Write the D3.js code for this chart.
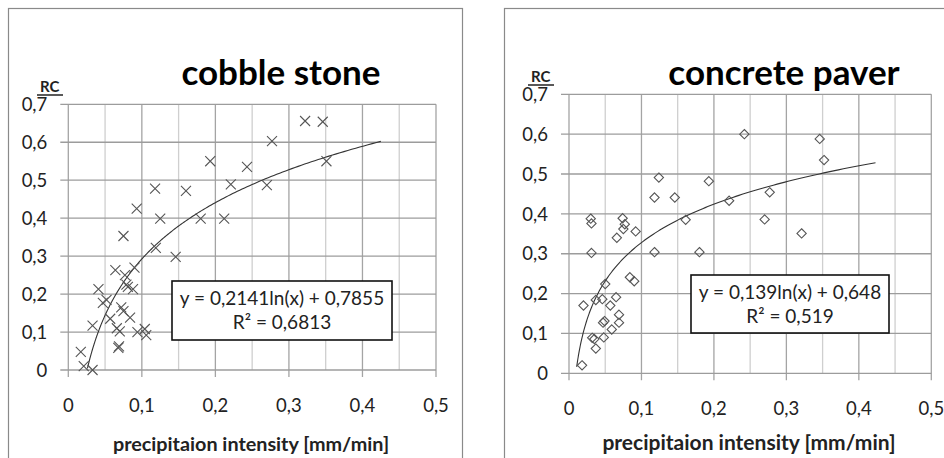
<!doctype html>
<html lang="en">
<head>
<meta charset="UTF-8">
<title>RC vs precipitation intensity</title>
<script src="https://cdn.jsdelivr.net/npm/d3@7"></script>
<style>
  body { margin: 0; background: #fff; }
  svg text { font-family: Lato, "Open Sans", sans-serif; fill: #222; }
</style>
</head>
<body>
<script>
// ---- data ----
var xTicks = [0, 0.1, 0.2, 0.3, 0.4, 0.5];
var xGrid = [0, 0.05, 0.1, 0.15, 0.2, 0.25, 0.3, 0.35, 0.4, 0.45, 0.5];
var yTicks = [0, 0.1, 0.2, 0.3, 0.4, 0.5, 0.6, 0.7];

var cobbleX = [0.017, 0.021, 0.033, 0.033, 0.041, 0.047, 0.052, 0.057, 0.064, 0.066,
               0.068, 0.069, 0.070, 0.072, 0.075, 0.075, 0.077, 0.079, 0.081, 0.084,
               0.088, 0.090, 0.093, 0.094, 0.104, 0.106, 0.118, 0.119, 0.125, 0.146,
               0.160, 0.180, 0.193, 0.212, 0.221, 0.243, 0.270, 0.277, 0.322, 0.346, 0.351];
var cobbleY = [0.048, 0.010, 0.000, 0.117, 0.213, 0.177, 0.185, 0.135, 0.263, 0.110,
               0.058, 0.062, 0.102, 0.165, 0.155, 0.353, 0.250, 0.225, 0.219, 0.138,
               0.213, 0.270, 0.425, 0.100, 0.108, 0.092, 0.478, 0.322, 0.399, 0.298,
               0.472, 0.399, 0.550, 0.399, 0.489, 0.535, 0.487, 0.603, 0.656, 0.654, 0.550];

var paverX = [0.018, 0.020, 0.030, 0.031, 0.031, 0.032, 0.035, 0.037, 0.037, 0.046,
              0.047, 0.049, 0.048, 0.050, 0.057, 0.059, 0.065, 0.066, 0.069, 0.069,
              0.074, 0.075, 0.077, 0.084, 0.090, 0.092, 0.118, 0.118, 0.124, 0.146,
              0.161, 0.180, 0.193, 0.221, 0.242, 0.270, 0.277, 0.321, 0.346, 0.352];
var paverY = [0.020, 0.170, 0.388, 0.376, 0.302, 0.089, 0.086, 0.062, 0.184, 0.186,
              0.127, 0.131, 0.090, 0.224, 0.170, 0.110, 0.191, 0.340, 0.127, 0.147,
              0.389, 0.362, 0.374, 0.241, 0.231, 0.356, 0.441, 0.304, 0.491, 0.441,
              0.385, 0.304, 0.482, 0.433, 0.600, 0.386, 0.454, 0.351, 0.588, 0.535];

// logarithmic trendlines y = a*ln(x) + b, drawn over [from, to]
var cobbleTrend = {a: 0.2141, b: 0.7855, from: 0.026, to: 0.425};
var paverTrend = {a: 0.139, b: 0.648, from: 0.0106, to: 0.423};

var titles = ["cobble stone", "concrete paver"];
var equations = [["y = 0,2141ln(x) + 0,7855", "R² = 0,6813"],
                 ["y = 0,139ln(x) + 0,648", "R² = 0,519"]];
var xTitle = "precipitaion intensity [mm/min]";
var yTitle = "RC";

var W = 944, H = 458;
var svg = d3.select("body").append("svg")
    .attr("width", W)
    .attr("height", H);

var fmt = function(v) { return String(v).replace(".", ","); };

function drawPanel(p) {
    var g = svg.append("g");

    // outer frame
    g.append("rect")
        .attr("x", p.frame[0] + 0.5).attr("y", p.frame[1] + 0.5)
        .attr("width", p.frame[2]).attr("height", p.frame[3])
        .attr("fill", "none").attr("stroke", "#8a8a8a").attr("stroke-width", 1.2);

    var x = d3.scaleLinear().domain([0, 0.5]).range([p.x0, p.x1]);
    var y = d3.scaleLinear().domain([0, 0.7]).range([p.y0, p.y1]);

    // minor vertical grid
    g.append("g").selectAll("line")
        .data(xGrid.filter(function(d, i) { return i % 2 === 1; }))
        .enter().append("line")
            .attr("x1", function(d) { return x(d); })
            .attr("x2", function(d) { return x(d); })
            .attr("y1", p.y0).attr("y2", p.y1)
            .attr("stroke", "#cfcfcf").attr("stroke-width", 1.3);

    // major vertical grid + ticks below
    g.append("g").selectAll("line")
        .data(xTicks)
        .enter().append("line")
            .attr("x1", function(d) { return x(d); })
            .attr("x2", function(d) { return x(d); })
            .attr("y1", p.y0 + 7).attr("y2", p.y1)
            .attr("stroke", "#a4a4a4").attr("stroke-width", 1.3);

    // horizontal grid + ticks left
    g.append("g").selectAll("line")
        .data(yTicks)
        .enter().append("line")
            .attr("x1", p.x0 - 8).attr("x2", p.x1)
            .attr("y1", function(d) { return y(d); })
            .attr("y2", function(d) { return y(d); })
            .attr("stroke", "#9c9c9c").attr("stroke-width", 1.3);

    // tick labels
    g.append("g").selectAll("text")
        .data(yTicks)
        .enter().append("text")
            .attr("x", p.x0 - 21)
            .attr("y", function(d) { return y(d); })
            .attr("dy", "0.36em")
            .attr("text-anchor", "end")
            .style("font-size", "18.5px")
            .text(fmt);

    g.append("g").selectAll("text")
        .data(xTicks)
        .enter().append("text")
            .attr("x", function(d) { return x(d); })
            .attr("y", p.y0 + 35)
            .attr("dy", "0.36em")
            .attr("text-anchor", "middle")
            .style("font-size", "18.5px")
            .text(fmt);

    // trendline
    var tx = d3.range(0, 201).map(function(i) {
        return Math.exp(Math.log(p.trend.from) + (Math.log(p.trend.to) - Math.log(p.trend.from)) * i / 200);
    });
    var line = d3.line()
        .x(function(d) { return x(d); })
        .y(function(d) { return y(p.trend.a * Math.log(d) + p.trend.b); });
    g.append("path")
        .datum(tx)
        .attr("d", line)
        .attr("fill", "none")
        .attr("stroke", "#333")
        .attr("stroke-width", 1.1);

    // markers
    var sym = d3.symbol().type(p.symbol).size(p.symbolSize);
    g.append("g").selectAll("path")
        .data(p.xs)
        .enter().append("path")
            .attr("transform", function(d, i) { return "translate(" + x(d) + "," + y(p.ys[i]) + ")"; })
            .attr("d", sym)
            .attr("fill", "none")
            .attr("stroke", "#555")
            .attr("stroke-width", 1.1);

    // equation box
    g.append("rect")
        .attr("x", p.box[0]).attr("y", p.box[1])
        .attr("width", p.box[2]).attr("height", p.box[3])
        .attr("fill", "#fff").attr("stroke", "#111").attr("stroke-width", 1.6);
    g.append("text")
        .attr("x", p.box[0] + p.box[2] / 2).attr("y", p.box[1] + 24)
        .attr("text-anchor", "middle")
        .style("font-size", "19px")
        .text(p.eq[0]);
    g.append("text")
        .attr("x", p.box[0] + p.box[2] / 2).attr("y", p.box[1] + 48)
        .attr("text-anchor", "middle")
        .style("font-size", "19px")
        .text(p.eq[1]);

    // titles
    g.append("text")
        .attr("x", p.titleX).attr("y", 85)
        .attr("text-anchor", "middle")
        .style("font-size", "35px").style("font-weight", "bold")
        .style("fill", "#000")
        .text(p.title);

    g.append("text")
        .attr("x", p.xTitleX).attr("y", p.xTitleY)
        .attr("text-anchor", "middle")
        .style("font-size", p.xTitleSize + "px").style("font-weight", "bold")
        .text(xTitle);

    g.append("text")
        .attr("x", p.rcX).attr("y", p.rcY)
        .style("font-size", "15px").style("font-weight", "bold")
        .text(yTitle);
    g.append("line")
        .attr("x1", p.rcX - 3).attr("x2", p.rcX + 23)
        .attr("y1", p.rcY + 3).attr("y2", p.rcY + 3)
        .attr("stroke", "#222").attr("stroke-width", 1.5);
}

drawPanel({
    frame: [8, 8, 454, 460],
    x0: 68.3, x1: 436, y0: 370, y1: 104.3,
    xs: cobbleX, ys: cobbleY, trend: cobbleTrend,
    symbol: d3.symbolTimes, symbolSize: 67,
    box: [172, 281, 220, 59], eq: equations[0],
    title: titles[0], titleX: 281,
    xTitleX: 251, xTitleY: 451, xTitleSize: 19.8,
    rcX: 40, rcY: 92
});

drawPanel({
    frame: [504, 8, 460, 460],
    x0: 569, x1: 931.3, y0: 373.3, y1: 94.3,
    xs: paverX, ys: paverY, trend: paverTrend,
    symbol: d3.symbolDiamond2, symbolSize: 55,
    box: [691, 275, 198, 58], eq: equations[1],
    title: titles[1], titleX: 784,
    xTitleX: 749, xTitleY: 450, xTitleSize: 21,
    rcX: 531, rcY: 82
});
</script>
</body>
</html>
